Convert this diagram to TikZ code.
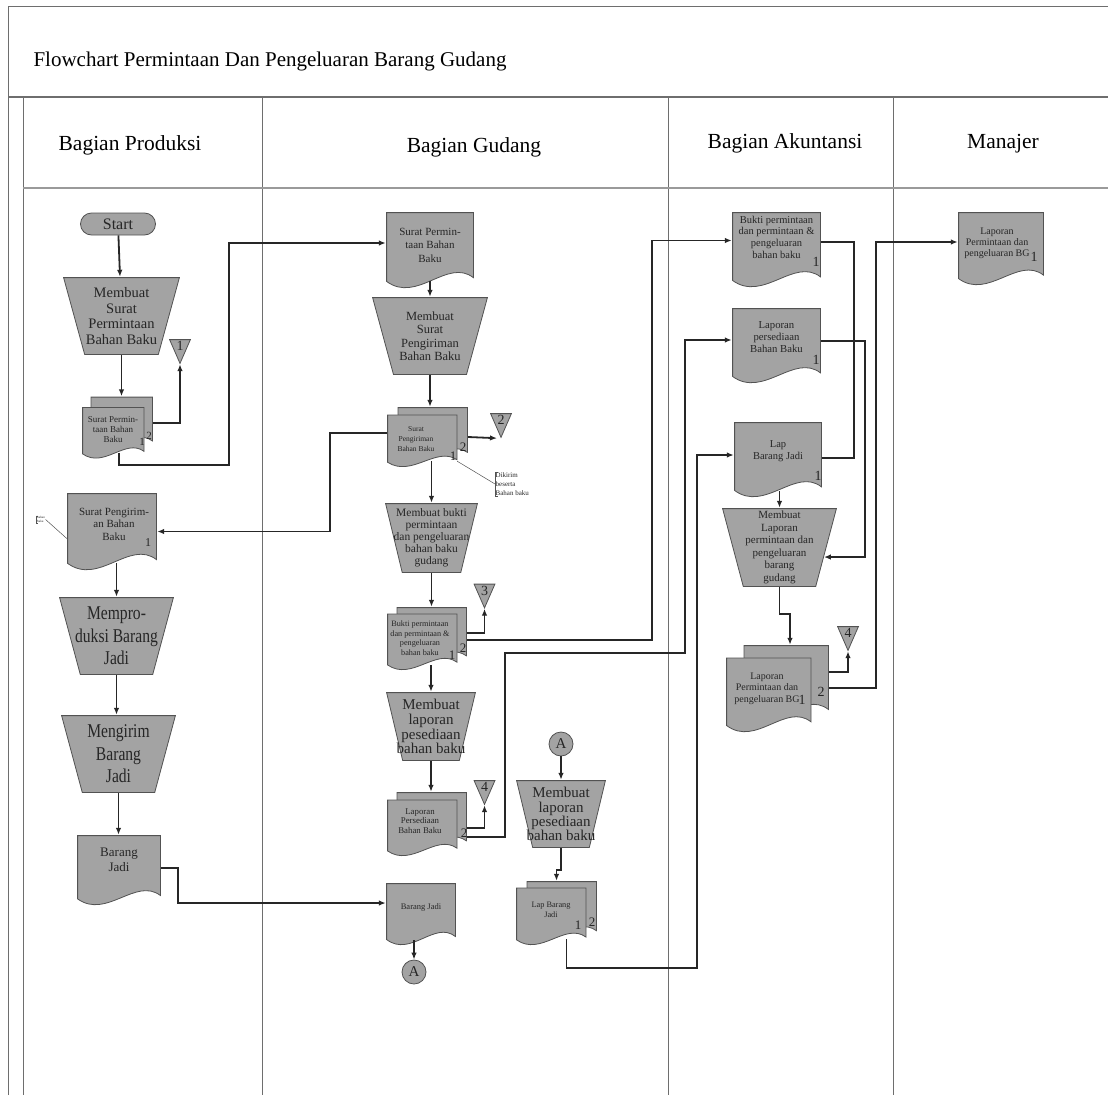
\documentclass[tikz,border=0pt]{standalone}
\usepackage{fontspec}
\setmainfont{Liberation Serif}
\newfontfamily\narrowserif[FakeStretch=0.8]{Liberation Serif}
\usetikzlibrary{arrows.meta,calc}
\definecolor{shapefill}{HTML}{A3A3A3}
\definecolor{shapeline}{HTML}{525252}
\definecolor{lanegray}{HTML}{6E6E6E}
\definecolor{inkgray}{HTML}{262626}
\definecolor{rulegray}{HTML}{9A9A9A}

% wavy document outline, corners (x0,y0) -- (x1,y1) in canvas units
\newcommand\wavepath[4]{({#1},{#2+0.08*(#4-#2)}) -- ({#1},{#4}) -- ({#3},{#4}) -- ({#3},{#2+0.13*(#4-#2)})
  .. controls ({#3-0.3*(#3-#1)},{#2+0.4*(#4-#2)}) and ({#1+0.35*(#3-#1)},{#2-0.22*(#4-#2)}) .. ({#1},{#2+0.08*(#4-#2)}) -- cycle}

\tikzset{
  shapebody/.style={fill=shapefill, draw=shapeline, line width=0.8pt},
  lane/.style={draw=lanegray, line width=0.9pt},
  head/.style={anchor=base, font=\fontsize{21.5}{21.5}\selectfont},
  doc/.style={inner sep=0pt, path picture={
      \filldraw[shapebody] let \p1=(path picture bounding box.south west), \p2=(path picture bounding box.north east)
        in \wavepath{(\x1+0.6)}{(\y1+0.6)}{(\x2-0.6)}{(\y2-0.6)};}},
  stack/.style 2 args={inner sep=0pt, path picture={
      \filldraw[shapebody] let \p1=(path picture bounding box.south west), \p2=(path picture bounding box.north east)
        in \wavepath{(\x1+#1)}{(\y1+#2)}{(\x2-0.6)}{(\y2-0.6)};
      \filldraw[shapebody] let \p1=(path picture bounding box.south west), \p2=(path picture bounding box.north east)
        in \wavepath{(\x1+0.6)}{(\y1+0.6)}{(\x2-#1)}{(\y2-#2)};}},
  trap/.style={inner sep=0pt, align=center, text=inkgray, path picture={
      \filldraw[shapebody] let \p1=(path picture bounding box.south west), \p2=(path picture bounding box.north east)
        in ({\x1+0.6},{\y2-0.6}) -- ({\x2-0.6},{\y2-0.6}) -- ({\x2-0.185*(\x2-\x1)},{\y1+0.6})
        -- ({\x1+0.185*(\x2-\x1)},{\y1+0.6}) -- cycle;}},
  offp/.style={minimum width=22pt, minimum height=25pt, inner sep=0pt, text depth=11pt,
    font=\fontsize{14}{14}\selectfont, text=inkgray, path picture={
      \filldraw[shapebody] let \p1=(path picture bounding box.south west), \p2=(path picture bounding box.north east)
        in ({\x1+0.6},{\y2-0.6}) -- ({\x2-0.6},{\y2-0.6}) -- ({0.5*(\x1+\x2)},{\y1+0.6}) -- cycle;}},
  term/.style={draw=shapeline, fill=shapefill, line width=0.8pt, rounded corners=11pt, minimum width=75pt,
    minimum height=22pt, inner sep=0pt, font=\fontsize{16}{16}\selectfont, text=inkgray},
  conn/.style={circle, draw=shapeline, fill=shapefill, line width=0.8pt, minimum size=24pt, inner sep=0pt,
    font=\fontsize{15}{15}\selectfont, text=inkgray},
  dtxt/.style 2 args={font=\fontsize{#1}{#2}\selectfont, align=center, text=inkgray, inner sep=0pt},
  num/.style={font=\fontsize{#1}{#1}\selectfont, text=inkgray, inner sep=0pt},
  note/.style={align=left, inner sep=0.5pt, text=inkgray},
  noteline/.style={draw=shapeline, line width=0.5pt},
  flow/.style={->, line width=1.8pt, draw=black!85},
  link/.style={line width=1.8pt, draw=black!85},
}

\begin{document}
\begin{tikzpicture}[x=1pt, y=-1pt, >={Latex[length=7pt,width=5.5pt]}]
  \useasboundingbox (0,0) rectangle (1108,1095);

  % swimlanes
  \draw[lane] (8,1095) -- (8,6) -- (1108,6);
  \draw[lane, line width=1.2pt] (8,97) -- (1108,97);
  \draw[lane] (23,97) -- (23,1095);
  \foreach \lx in {262,668,893}
    \draw[lane] (\lx,97) -- (\lx,1095);
  \draw[draw=rulegray, line width=2.5pt] (23,188) -- (1108,188);

  \node[anchor=base west, font=\fontsize{21}{21}\selectfont] (title) at (30,66)
    {Flowchart Permintaan Dan Pengeluaran Barang Gudang};
  \node[head] (hprod) at (130,150) {Bagian Produksi};
  \node[head] (hgud) at (474,152) {Bagian Gudang};
  \node[head] (hakun) at (785,148) {Bagian Akuntansi};
  \node[head] (hman) at (1003,148) {Manajer};

  % Bagian Produksi
  \node[term] (start) at (118,224) {Start};
  \node[trap, minimum width=117pt, minimum height=78pt, font=\fontsize{14.5}{15.5}\selectfont] (ptrap1)
    at (121.5,316) {Membuat\\Surat\\Permintaan\\Bahan Baku};
  \node[stack={9}{11}, minimum width=71pt, minimum height=62pt] (pstack) at (117.5,427.5) {};
  \node[dtxt={9}{10}] (pstacktxt) at ($(pstack.center)+(-4.5,2.5)$) {Surat Permin-\\taan Bahan\\Baku};
  \node[num=11] (pstackno1) at ($(pstack.south east)+(-11,-17)$) {1};
  \node[num=11] (pstackno2) at ($(pstack.south east)+(-4,-23)$) {2};
  \node[offp] (poff1) at (180,351.5) {1};
  \node[doc, minimum width=90pt, minimum height=77pt] (pdoc) at (112,531.5) {};
  \node[dtxt={11}{12.5}] (pdoctxt) at ($(pdoc.center)+(2,-7.5)$) {Surat Pengirim-\\an Bahan\\Baku};
  \node[num=12] (pdocno) at ($(pdoc.south east)+(-9,-28)$) {1};
  \node[note, anchor=west, font=\fontsize{3.2}{3.6}\selectfont] (pnote) at (36,519.5) {Bahan\\Baku};
  \node[trap, minimum width=115pt, minimum height=78pt, font=\narrowserif\fontsize{19.5}{22.5}\selectfont] (ptrap2)
    at (116.5,636) {Mempro-\\duksi Barang\\Jadi};
  \node[trap, minimum width=115pt, minimum height=78pt, font=\narrowserif\fontsize{19.5}{22.5}\selectfont] (ptrap3)
    at (118.5,754) {Mengirim\\Barang\\Jadi};
  \node[doc, minimum width=84pt, minimum height=70pt] (pdoc2) at (119,870) {};
  \node[dtxt={13}{15}] (pdoc2txt) at ($(pdoc2.center)+(0,-10)$) {Barang\\Jadi};

  % Bagian Gudang
  \node[doc, minimum width=88pt, minimum height=76pt] (gdoc1) at (430,250) {};
  \node[dtxt={11}{13.5}] (gdoc1txt) at ($(gdoc1.center)+(0,-5)$) {Surat Permin-\\taan Bahan\\Baku};
  \node[trap, minimum width=116pt, minimum height=78pt, font=\fontsize{12.5}{13.5}\selectfont] (gtrap1)
    at (430,336) {Membuat\\Surat\\Pengiriman\\Bahan Baku};
  \node[stack={11}{8}, minimum width=81pt, minimum height=60pt] (gstack1) at (427.5,437) {};
  \node[dtxt={7.5}{9.7}] (gstack1txt) at ($(gstack1.center)+(-11.5,2)$) {Surat\\Pengiriman\\Bahan Baku};
  \node[num=13] (gstack1no1) at ($(gstack1.south east)+(-15,-11)$) {1};
  \node[num=13] (gstack1no2) at ($(gstack1.south east)+(-5,-20)$) {2};
  \node[offp] (goff2) at (501,425.5) {2};
  \node[note, anchor=west, font=\fontsize{7}{9}\selectfont] (gnote) at (495,484) {Dikirim\\beserta\\Bahan baku};
  \node[trap, minimum width=93pt, minimum height=70pt, font=\fontsize{11.5}{12}\selectfont] (gtrap2)
    at (431.5,538) {Membuat bukti\\permintaan\\dan pengeluaran\\bahan baku\\gudang};
  \node[stack={10}{7}, minimum width=80pt, minimum height=63pt] (gstack2) at (427,638.5) {};
  \node[dtxt={8.2}{9.5}] (gstack2txt) at ($(gstack2.center)+(-7,-0.5)$) {Bukti permintaan\\dan permintaan \&\\pengeluaran\\bahan baku};
  \node[num=13] (gstack2no1) at ($(gstack2.south east)+(-15,-15)$) {1};
  \node[num=13] (gstack2no2) at ($(gstack2.south east)+(-4,-22)$) {2};
  \node[offp] (goff3) at (484.5,596) {3};
  \node[trap, minimum width=90pt, minimum height=69pt, font=\fontsize{15}{14.8}\selectfont] (gtrap3)
    at (431,726.5) {Membuat\\laporan\\pesediaan\\bahan baku};
  \node[stack={10}{8}, minimum width=80pt, minimum height=64pt] (gstack3) at (427,824) {};
  \node[dtxt={8.8}{9.3}] (gstack3txt) at ($(gstack3.center)+(-7,-3)$) {Laporan\\Persediaan\\Bahan Baku};
  \node[num=13] (gstack3no2) at ($(gstack3.south east)+(-3,-23)$) {2};
  \node[offp] (goff4) at (484.5,792.5) {4};
  \node[doc, minimum width=70pt, minimum height=62pt] (gdoc2) at (421,914) {};
  \node[dtxt={8.5}{10}] (gdoc2txt) at ($(gdoc2.center)+(0,-7)$) {Barang Jadi};
  \node[conn] (gconA) at (414,972) {A};
  \node[conn] (gconA2) at (561,744) {A};
  \node[trap, minimum width=90pt, minimum height=68pt, font=\fontsize{15}{14.2}\selectfont] (gtrap4)
    at (561,814) {Membuat\\laporan\\pesediaan\\bahan baku};
  \node[stack={11}{7}, minimum width=81pt, minimum height=64pt] (gstack4) at (556.5,913) {};
  \node[dtxt={8.3}{10}] (gstack4txt) at ($(gstack4.center)+(-5.5,-3)$) {Lap Barang\\Jadi};
  \node[num=13] (gstack4no1) at ($(gstack4.south east)+(-19,-20)$) {1};
  \node[num=13] (gstack4no2) at ($(gstack4.south east)+(-5,-23)$) {2};

  % Bagian Akuntansi
  \node[doc, minimum width=89pt, minimum height=75pt] (adoc1) at (776.5,249.5) {};
  \node[dtxt={10.5}{11.7}] (adoc1txt) at ($(adoc1.center)+(0,-12.5)$) {Bukti permintaan\\dan permintaan \&\\pengeluaran\\bahan baku};
  \node[num=14] (adoc1no) at ($(adoc1.south east)+(-5,-25)$) {1};
  \node[doc, minimum width=89pt, minimum height=75pt] (adoc2) at (776.5,345.5) {};
  \node[dtxt={10.7}{12}] (adoc2txt) at ($(adoc2.center)+(0,-8.5)$) {Laporan\\persediaan\\Bahan Baku};
  \node[num=14] (adoc2no) at ($(adoc2.south east)+(-5,-23)$) {1};
  \node[doc, minimum width=88pt, minimum height=75pt] (adoc3) at (778,459.5) {};
  \node[dtxt={10.5}{11.7}] (adoc3txt) at ($(adoc3.center)+(0,-8.5)$) {Lap\\Barang Jadi};
  \node[num=14] (adoc3no) at ($(adoc3.south east)+(-4,-21)$) {1};
  \node[trap, minimum width=115pt, minimum height=79pt, font=\fontsize{11}{12.5}\selectfont] (atrap)
    at (779.5,547.5) {Membuat\\Laporan\\permintaan dan\\pengeluaran\\barang\\gudang};
  \node[stack={18}{13}, minimum width=103pt, minimum height=87pt] (astack) at (777.5,688.5) {};
  \node[dtxt={10}{11.7}] (astacktxt) at ($(astack.center)+(-10.5,0)$) {Laporan\\Permintaan dan\\pengeluaran BG};
  \node[num=14] (astackno1) at ($(astack.south east)+(-27,-32)$) {1};
  \node[num=14] (astackno2) at ($(astack.south east)+(-8,-40)$) {2};
  \node[offp] (aoff4) at (848,638.5) {4};

  % Manajer
  \node[doc, minimum width=86pt, minimum height=73pt] (mdoc) at (1001,248.5) {};
  \node[dtxt={10}{11}] (mdoctxt) at ($(mdoc.center)+(-4,-5.5)$) {Laporan\\Permintaan dan\\pengeluaran BG};
  \node[num=14] (mdocno) at ($(mdoc.south east)+(-10,-28)$) {1};

  % connectors, Produksi
  \draw[flow] (start) -- (ptrap1);
  \draw[flow] (ptrap1.south) -- (ptrap1.south |- pstack.north);
  \draw[flow] ([yshift=4.5pt]pstack.east) -| (poff1.south);
  \draw[flow] ($(pstack.south)+(1.5,-6)$) |- (229,465) |- ([yshift=7pt]gdoc1.west);
  \draw[flow] ([yshift=4pt]gstack1.west) -- ++(-57,0) |- (pdoc.east);
  \draw[noteline] ([xshift=2pt]pnote.north west) -| (pnote.south west) -- ++(2,0);
  \draw[noteline] (pnote.east) -- ($(pdoc.west)+(0,7)$);
  \draw[flow] ($(ptrap2.north |- pdoc.south)+(0,-7)$) -- (ptrap2.north);
  \draw[flow] (ptrap2.south) -- (ptrap2.south |- ptrap3.north);
  \draw[flow] (ptrap3.south) -- (ptrap3.south |- pdoc2.north);
  \draw[flow] ([yshift=2pt]pdoc2.east) -- ++(17,0) |- ([yshift=11pt]gdoc2.west);

  % connectors, Gudang
  \draw[flow] ($(gdoc1.south)+(0,-7)$) -- (gtrap1.north);
  \draw[flow] (gtrap1.south) -- (gtrap1.south |- gstack1.north);
  \draw[flow] (gstack1.east) -- ([xshift=-4pt]goff2.south);
  \draw[noteline] ([xshift=3pt]gnote.north west) -| (gnote.south west) -- ++(3,0);
  \draw[noteline] ($(gstack1.south east)+(-11,-6)$) -- (gnote.west);
  \draw[flow] ($(gtrap2.north |- gstack1.south)+(0,-6)$) -- (gtrap2.north);
  \draw[flow] (gtrap2.south) -- (gtrap2.south |- gstack2.north);
  \draw[flow] ([yshift=5.5pt]gstack2.east) -| (goff3.south);
  \draw[flow] ([yshift=-1.5pt]gstack2.east) -- ++(185,0) |- ([yshift=9pt]adoc1.west);
  \draw[flow] ($(gtrap3.north |- gstack2.south)+(0,-5)$) -- (gtrap3.north);
  \draw[flow] (gtrap3.south) -- (gtrap3.south |- gstack3.north);
  \draw[flow] ([yshift=-4pt]gstack3.east) -| (goff4.south);
  \draw[flow] ([yshift=-13pt]gstack3.east) -- ++(38,0) |- (685,653) |- ([yshift=5.5pt]adoc2.west);
  \draw[flow] ($(gconA.north |- gdoc2.south)+(0,-5)$) -- (gconA.north);
  \draw[flow] (gconA2) -- (gtrap4);
  \draw[flow] (gtrap4.south) -- ++(0,22) -| (gstack4.north);
  \draw[flow] ($(gstack4.south)+(10,-6)$) |- (697,968) |- ([yshift=4.5pt]adoc3.west);

  % connectors, Akuntansi
  \coordinate (atrapin) at ($(atrap.north east)!0.62!([xshift=-21.5pt]atrap.south east)$);
  \draw[link] ([yshift=7.5pt]adoc1.east) -- ++(33,0) |- ([yshift=1.5pt]adoc3.east);
  \draw[flow] ([yshift=4.5pt]adoc2.east) -- ++(44,0) |- (atrapin);
  \draw[flow] ($(atrap.north |- adoc3.south)+(0,-6)$) -- (atrap.north);
  \draw[flow] (atrap.south) -- ++(0,27) -| ([xshift=12.5pt]astack.north);
  \draw[flow] ([yshift=16.5pt]astack.east) -| (aoff4.south);
  \draw[flow] ([yshift=0.5pt]astack.east) -- ++(47,0) |- ([yshift=6.5pt]mdoc.west);
\end{tikzpicture}
\end{document}
